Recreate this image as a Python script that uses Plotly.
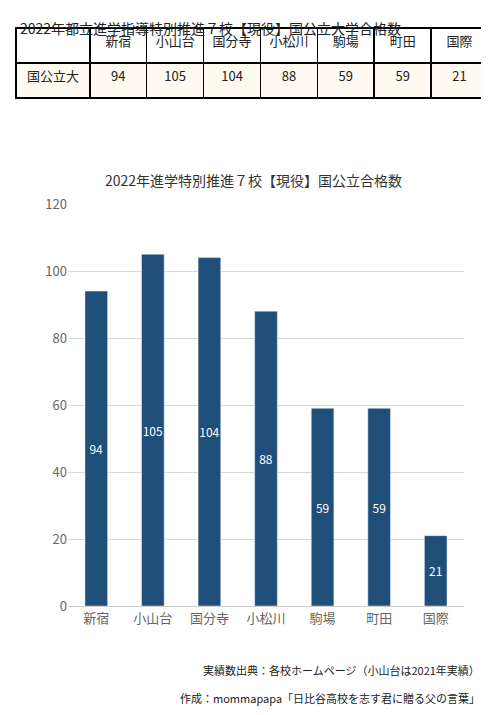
import plotly.graph_objects as go

schools = ["新宿", "小山台", "国分寺", "小松川", "駒場", "町田", "国際"]
values = [94, 105, 104, 88, 59, 59, 21]
row_label = "国公立大"

W, H = 489, 715
F = "Noto Sans CJK JP"
fig = go.Figure()

fig.add_trace(go.Table(
    domain=dict(x=[8/W, 481/W], y=[1-92/H, 1-20/H]),
    columnwidth=[74] + [57]*7,
    header=dict(values=[""] + schools, height=35, fill_color="white",
                line=dict(color="black", width=1.5),
                font=dict(family=F, size=13, color="#222"), align="center"),
    cells=dict(values=[[row_label]] + [[v] for v in values], height=35,
               fill_color="#FFFAF0", line=dict(color="black", width=1.5),
               font=dict(family=F, size=13, color="#222"), align="center"),
))

fig.add_trace(go.Bar(
    x=schools, y=values, marker_color="#1F4E79", width=0.4,
    text=values, textposition="inside", insidetextanchor="middle",
    textfont=dict(color="white", size=12, family=F), textangle=0,
))

fig.update_layout(
    width=W, height=H, margin=dict(l=0, r=0, t=0, b=0),
    paper_bgcolor="white", plot_bgcolor="white", showlegend=False,
    font=dict(family=F, color="#555"),
    uniformtext=dict(minsize=12, mode="show"),
    xaxis=dict(domain=[60/W, 456/W], showline=True, linecolor="#ccc", automargin=False,
               tickfont=dict(size=13, color="#666")),
    yaxis=dict(domain=[1-598/H, 1-196/H], range=[0, 120], dtick=20, automargin=False,
               gridcolor="#d9d9d9", zeroline=False,
               tickfont=dict(size=13, color="#666")),
    annotations=[
        dict(text="2022年都立進学指導特別推進７校【現役】国公立大学合格数", x=10/W, y=1-20/H,
             xref="paper", yref="paper", xanchor="left", yanchor="middle", showarrow=False,
             font=dict(size=14, color="#222")),
        dict(text="2022年進学特別推進７校【現役】国公立合格数", x=245/W, y=1-172/H,
             xref="paper", yref="paper", xanchor="center", yanchor="middle", showarrow=False,
             font=dict(size=14, color="#333")),
        dict(text="実績数出典：各校ホームページ（小山台は2021年実績）", x=474/W, y=1-662/H,
             xref="paper", yref="paper", xanchor="right", yanchor="middle", showarrow=False,
             font=dict(size=11, color="#222")),
        dict(text="作成：mommapapa「日比谷高校を志す君に贈る父の言葉」", x=474/W, y=1-690/H,
             xref="paper", yref="paper", xanchor="right", yanchor="middle", showarrow=False,
             font=dict(size=11, color="#222")),
    ],
)
fig.write_html("out.html")
